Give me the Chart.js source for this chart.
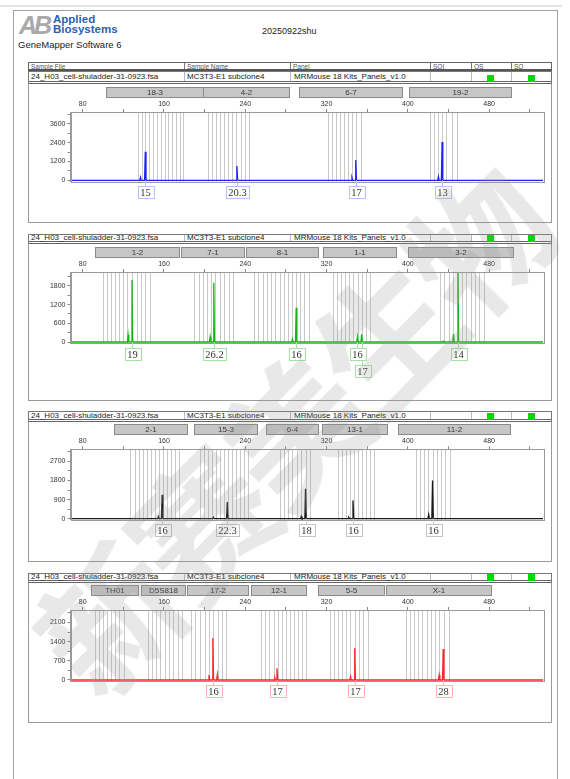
<!DOCTYPE html>
<html lang="en">
<head>
<meta charset="UTF-8">
<title>GeneMapper 20250922shu</title>
<script src="https://cdn.jsdelivr.net/npm/chart.js@4.4.1/dist/chart.umd.min.js"></script>
<style>
  body { margin:0; width:570px; height:779px; position:relative; overflow:hidden; background:#fff;
         font-family:"Liberation Sans", Arial, sans-serif; color:#222; }
  .a { position:absolute; white-space:nowrap; }
  .panel { position:absolute; left:28px; width:524px; border:1px solid #9a9a9a; box-sizing:border-box; }
  .hdr { position:absolute; left:28px; width:524px; height:9px; border:1px solid #666; border-bottom:2px solid #555;
         box-sizing:border-box; font-size:6.5px; color:#555; }
  .row { position:absolute; left:28px; width:524px; border:1px solid #777; border-bottom:3px double #666;
         box-sizing:border-box; font-size:8px; color:#222; }
  .row span, .hdr span { position:absolute; top:0; }
  .div { position:absolute; top:0; bottom:0; width:0; border-left:1px solid #bbb; }
  .sq { position:absolute; width:7px; height:7px; background:#00d800; }
  canvas { position:absolute; left:29px; }
  #wm { position:absolute; left:288px; top:428px; transform:translate(-50%,-50%) rotate(-45.5deg);
        font-family:"Noto Sans CJK SC", sans-serif; font-weight:700; font-size:138px; letter-spacing:-6px;
        color:rgba(150,150,150,0.22); white-space:nowrap; pointer-events:none; z-index:10; }
</style>
</head>
<body>
<div class="a" style="left:0;top:5px;width:562px;height:2px;background:#e2e2e2"></div>
<div class="a" style="left:13px;top:10px;width:545px;height:800px;border:1px solid #a0a0a0;box-sizing:border-box"></div>

<div class="a" style="left:19px;top:11px;font-size:25px;font-weight:700;color:#a9a9a9;letter-spacing:-3px;font-style:italic">AB</div>
<div class="a" style="left:53px;top:14px;font-size:11.5px;font-weight:700;color:#2b5fb3;line-height:10px">Applied<br>Biosystems</div>
<div class="a" style="left:18px;top:39px;font-size:9.5px;color:#222">GeneMapper Software 6</div>
<div class="a" style="left:262px;top:26px;font-size:9px;color:#222">20250922shu</div>

<div id="wm">新赛美生物</div>

<script>
const sampleFile = '24_H03_cell-shuladder-31-0923.fsa';
const sampleName = 'MC3T3-E1 subclone4';
const panelName = 'MRMouse 18 Kits_Panels_v1.0';
const columnNames = ['Sample File', 'Sample Name', 'Panel', 'SQI', 'OS', 'SQ'];

// size axis (bp)
const xTicks = [80, 120, 160, 200, 240, 280, 320, 360, 400, 440, 480, 520];
const xLabels = [80, 160, 240, 320, 400, 480];

// blue dye
const blueMarkers = ['18-3', '4-2', '6-7', '19-2'];
const blueMarkerFrom = [103.2, 198.5, 292.7, 401.6];
const blueMarkerTo = [198.5, 282.7, 393.9, 501.2];
const blueBins = [134,138,141,145,149,153,157,161,164,168,172,176,179,
                  203,207,211,215,219,223,227,231,236,240,244,
                  321,325,329,333,337,341,345,349,354,
                  422,426,430,434,438,443,448];
const bluePeakBp = [136.9, 141.6, 231.8, 345.0, 348.7, 430.1, 433.7];
const bluePeakRfu = [190, 1826, 913, 170, 1296, 230, 2445];
const blueAlleles = ['15', '20.3', '17', '13'];
const blueAlleleBp = [141.6, 231.8, 348.7, 433.7];
const blueAlleleRow = [0, 0, 0, 0];
const blueYTicks = [0, 600, 1200, 1800, 2400, 3000, 3600, 4200];
const blueYLabels = [0, 1200, 2400, 3600];

// green dye
const greenMarkers = ['1-2', '7-1', '8-1', '1-1', '3-2'];
const greenMarkerFrom = [91.8, 177.2, 240.3, 316.2, 400.2];
const greenMarkerTo = [174.8, 238.5, 311.1, 388.4, 503.6];
const greenBins = [100,104,108,112,116,120,124,129,133,137,141,146,
                   190,194,198,202,206,210,215,219,224,228,
                   249,253,257,261,265,269,274,278,282,286,290,294,298,303,
                   326,330,334,338,342,346,351,355,359,363,
                   432,436,440,444,449,453,457,462,466,470,475];
const greenPeakBp = [124.7, 128.5, 205.4, 209.0, 286.4, 290.1, 350.4, 354.5, 434.7, 444.9, 449.3];
const greenPeakRfu = [225, 1989, 170, 1903, 90, 1100, 170, 247, 30, 257, 2300];
const greenAlleles = ['19', '26.2', '16', '16', '17', '14'];
const greenAlleleBp = [128.5, 209.0, 290.1, 350.4, 354.5, 449.3];
const greenAlleleRow = [0, 0, 0, 0, 1, 0];
const greenYTicks = [0, 300, 600, 900, 1200, 1500, 1800, 2100];
const greenYLabels = [0, 600, 1200, 1800];

// black dye
const blackMarkers = ['2-1', '15-3', '6-4', '13-1', '11-2'];
const blackMarkerFrom = [110.5, 189.4, 260.6, 315.2, 390.1];
const blackMarkerTo = [182.3, 251.1, 311.1, 379.9, 500.2];
const blackBins = [127,131,135,139,143,147,151,155,159,163,167,171,175,
                   195,199,203,207,211,215,219,223,227,231,235,239,243,
                   274,278,282,286,291,295,300,304,
                   331,335,339,343,347,351,355,359,363,367,
                   408,412,416,420,425,429,433,437,441];
const blackPeakBp = [154.5, 158.2, 208.7, 222.3, 295.1, 299.3, 341.9, 346.0, 420.5, 424.3];
const blackPeakRfu = [100, 1131, 60, 782, 110, 1414, 60, 862, 200, 1805];
const blackAlleles = ['16', '22.3', '18', '16', '16'];
const blackAlleleBp = [158.2, 222.3, 299.3, 346.0, 424.3];
const blackAlleleRow = [0, 0, 0, 0, 0];
const blackYTicks = [0, 450, 900, 1350, 1800, 2250, 2700, 3150];
const blackYLabels = [0, 900, 1800, 2700];

// red dye
const redMarkers = ['TH01', 'D5S818', '17-2', '12-1', '5-5', 'X-1'];
const redMarkerFrom = [87.8, 137.6, 182.7, 245.3, 311.1, 378.9];
const redMarkerTo = [134.3, 180.4, 242.7, 300.2, 376.5, 481.6];
const redBins = [92,96,100,104,108,112,116,121,
                 144,148,152,156,161,165,169,174,178,
                 187,191,195,200,204,208,213,217,221,
                 255,259,263,268,272,276,280,284,288,292,296,300,
                 323,327,331,335,339,343,348,352,356,361,
                 398,402,406,410,414,419,423,427,431,436,440];
const redPeakBp = [204.3, 208.1, 212.5, 269.1, 271.2, 343.6, 347.7, 430.8, 434.8];
const redPeakRfu = [180, 1534, 200, 80, 426, 120, 1156, 180, 1130];
const redAlleles = ['16', '17', '17', '28'];
const redAlleleBp = [208.1, 271.2, 347.7, 434.8];
const redAlleleRow = [0, 0, 0, 0];
const redYTicks = [0, 350, 700, 1050, 1400, 1750, 2100, 2450];
const redYLabels = [0, 700, 1400, 2100];

const sans = '"Liberation Sans", Arial, sans-serif';
const serif = '"Liberation Serif", "Times New Roman", serif';

// page geometry for the four panels
const panels = [
  { top: 62, row: 71, rowBottom: 84, bottom: 223, plotTop: 112, plotBottom: 181.5, yMin: -77, yMax: 4358,
    color: '#1f1fff', soft: '#b9bfff', markers: blueMarkers, mFrom: blueMarkerFrom, mTo: blueMarkerTo, bins: blueBins,
    pBp: bluePeakBp, pRfu: bluePeakRfu, alleles: blueAlleles, aBp: blueAlleleBp, aRow: blueAlleleRow,
    yTicks: blueYTicks, yLabels: blueYLabels },
  { top: 234, row: 234, rowBottom: 244, bottom: 401, plotTop: 272, plotBottom: 343.2, yMin: -38, yMax: 2246,
    color: '#16b516', soft: '#a6e2a6', markers: greenMarkers, mFrom: greenMarkerFrom, mTo: greenMarkerTo, bins: greenBins,
    pBp: greenPeakBp, pRfu: greenPeakRfu, alleles: greenAlleles, aBp: greenAlleleBp, aRow: greenAlleleRow,
    yTicks: greenYTicks, yLabels: greenYLabels },
  { top: 411, row: 411, rowBottom: 422, bottom: 562, plotTop: 449.3, plotBottom: 519.9, yMin: -57, yMax: 3270,
    color: '#1a1a1a', soft: '#c4c4c4', markers: blackMarkers, mFrom: blackMarkerFrom, mTo: blackMarkerTo, bins: blackBins,
    pBp: blackPeakBp, pRfu: blackPeakRfu, alleles: blackAlleles, aBp: blackAlleleBp, aRow: blackAlleleRow,
    yTicks: blackYTicks, yLabels: blackYLabels },
  { top: 573, row: 573, rowBottom: 583, bottom: 723, plotTop: 610, plotBottom: 681.2, yMin: -44, yMax: 2555,
    color: '#ff2626', soft: '#ffb4b4', markers: redMarkers, mFrom: redMarkerFrom, mTo: redMarkerTo, bins: redBins,
    pBp: redPeakBp, pRfu: redPeakRfu, alleles: redAlleles, aBp: redAlleleBp, aRow: redAlleleRow,
    yTicks: redYTicks, yLabels: redYLabels }
];

const X_MIN = 68, X_MAX = 533;
const colX = [28, 184, 290, 430, 471, 511];

function el(tag, cls, style, text) {
  const e = document.createElement(tag);
  if (cls) e.className = cls;
  if (style) e.style.cssText = style;
  if (text !== undefined) e.textContent = text;
  document.body.appendChild(e);
  return e;
}

// turn peak list into a trace along the baseline
function buildTrace(bps, rfus) {
  const pts = [{ x: X_MIN, y: 0 }, { x: X_MAX, y: 0 }];
  bps.forEach((b, i) => {
    pts.push({ x: b - 0.7, y: 0 }, { x: b, y: rfus[i] }, { x: b + 0.7, y: 0 });
  });
  return pts.sort((a, b) => a.x - b.x);
}

function gmPlugin(p) {
  return {
    id: 'gm',
    beforeDatasetsDraw(chart) {
      const { ctx, chartArea: ca, scales: { x } } = chart;
      ctx.save();
      ctx.strokeStyle = '#c9c9c9';
      ctx.lineWidth = 1;
      p.bins.forEach(b => {
        const px = Math.round(x.getPixelForValue(b)) + 0.5;
        ctx.beginPath(); ctx.moveTo(px, ca.top); ctx.lineTo(px, ca.bottom); ctx.stroke();
      });
      ctx.restore();
    },
    afterDatasetsDraw(chart) {
      const { ctx, chartArea: ca } = chart;
      ctx.save();
      ctx.strokeStyle = '#9a9a9a';
      ctx.lineWidth = 1;
      ctx.strokeRect(Math.round(ca.left) + 0.5, Math.round(ca.top) + 0.5,
                     Math.round(ca.right - ca.left), Math.round(ca.bottom - ca.top));
      ctx.restore();
    },
    afterDraw(chart) {
      const { ctx, chartArea: ca, scales: { x, y } } = chart;
      ctx.save();
      // marker bars
      const barTop = Math.round(ca.top) - 25;
      ctx.font = '8px ' + sans;
      ctx.textAlign = 'center';
      ctx.textBaseline = 'middle';
      p.markers.forEach((m, i) => {
        const x1 = Math.round(x.getPixelForValue(p.mFrom[i])) + 0.5;
        const x2 = Math.round(x.getPixelForValue(p.mTo[i])) + 0.5;
        ctx.fillStyle = '#c6c6c6';
        ctx.fillRect(x1, barTop + 0.5, x2 - x1, 10);
        ctx.strokeStyle = '#8a8a8a';
        ctx.strokeRect(x1, barTop + 0.5, x2 - x1, 10);
        ctx.fillStyle = '#3a3a3a';
        ctx.fillText(m, (x1 + x2) / 2, barTop + 6);
      });
      // allele labels
      const zero = y.getPixelForValue(0);
      ctx.font = '10.5px ' + serif;
      p.alleles.forEach((a, i) => {
        const cx = Math.round(x.getPixelForValue(p.aBp[i])) + 0.5;
        const top = Math.round(zero + 5.5 + p.aRow[i] * 17) + 0.5;
        ctx.strokeStyle = p.soft;
        ctx.beginPath(); ctx.moveTo(cx, zero); ctx.lineTo(cx, top); ctx.stroke();
      });
      p.alleles.forEach((a, i) => {
        const cx = Math.round(x.getPixelForValue(p.aBp[i])) + 0.5;
        const top = Math.round(zero + 5.5 + p.aRow[i] * 17) + 0.5;
        const w = Math.round(ctx.measureText(a).width + 5);
        ctx.fillStyle = '#fff';
        ctx.fillRect(cx - w / 2, top, w, 12);
        ctx.strokeStyle = p.soft;
        ctx.strokeRect(Math.round(cx - w / 2) + 0.5, top, w, 12);
        ctx.fillStyle = '#333';
        ctx.fillText(a, cx, top + 6.5);
      });
      ctx.restore();
    }
  };
}

panels.forEach((p, k) => {
  el('div', 'panel', `top:${p.top}px;height:${p.bottom - p.top}px`);
  if (k === 0) {
    const h = el('div', 'hdr', `top:${p.top}px`);
    columnNames.forEach((c, i) => {
      const s = document.createElement('span');
      s.style.left = (colX[i] - 28 + 2) + 'px';
      s.textContent = c;
      h.appendChild(s);
      if (i > 0) {
        const d = document.createElement('div');
        d.className = 'div'; d.style.left = (colX[i] - 29) + 'px'; d.style.borderColor = '#777';
        h.appendChild(d);
      }
    });
  }
  const r = el('div', 'row', `top:${p.row}px;height:${p.rowBottom - p.row}px;line-height:${p.rowBottom - p.row - 4}px`);
  [sampleFile, sampleName, panelName].forEach((t, i) => {
    const s = document.createElement('span');
    s.style.left = (colX[i] - 28 + 2 + (i === 2 ? 1 : 0)) + 'px';
    s.textContent = t;
    r.appendChild(s);
  });
  colX.slice(1).forEach(cx => {
    const d = document.createElement('div');
    d.className = 'div'; d.style.left = (cx - 29) + 'px';
    r.appendChild(d);
  });
  el('div', 'sq', `left:487px;top:${p.rowBottom - 9}px`);
  el('div', 'sq', `left:528px;top:${p.rowBottom - 9}px`);

  const cv = el('canvas', null, `top:${p.rowBottom}px`);
  const h = p.bottom - 1 - p.rowBottom;
  cv.width = 522; cv.height = h;

  new Chart(cv, {
    type: 'line',
    data: {
      datasets: [{
        data: buildTrace(p.pBp, p.pRfu),
        borderColor: p.color,
        borderWidth: 1.3,
        pointRadius: 0,
        tension: 0,
        fill: false
      }]
    },
    options: {
      responsive: false,
      animation: false,
      devicePixelRatio: 1,
      layout: { padding: { top: p.plotTop - p.rowBottom - 12, bottom: h - (p.plotBottom - p.rowBottom), right: 8, left: 0 } },
      plugins: { legend: { display: false }, tooltip: { enabled: false } },
      scales: {
        x: {
          type: 'linear', position: 'top', min: X_MIN, max: X_MAX,
          afterBuildTicks: s => { s.ticks = xTicks.map(v => ({ value: v })); },
          afterFit: s => { s.height = 12; },
          ticks: { autoSkip: false, maxRotation: 0, padding: 1, color: '#333', font: { size: 7, family: sans },
                   callback: v => xLabels.includes(v) ? String(v) : '' },
          grid: { drawOnChartArea: false, tickLength: 3, color: '#888' },
          border: { color: '#9a9a9a' }
        },
        y: {
          type: 'linear', min: p.yMin, max: p.yMax,
          afterBuildTicks: s => { s.ticks = p.yTicks.map(v => ({ value: v })); },
          afterFit: s => { s.width = 41.5; },
          ticks: { autoSkip: false, padding: 2, color: '#333', font: { size: 7, family: sans },
                   callback: v => p.yLabels.includes(v) ? String(v) : '' },
          grid: { drawOnChartArea: false, tickLength: 3, color: '#888' },
          border: { color: '#9a9a9a' }
        }
      }
    },
    plugins: [gmPlugin(p)]
  });
});
</script>
</body>
</html>
